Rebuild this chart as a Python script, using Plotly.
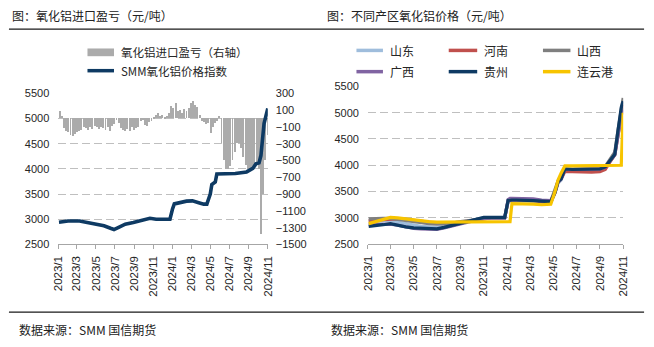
import plotly.graph_objects as go
import pandas as pd

CJK = "Noto Sans CJK SC, Noto Sans, sans-serif"
NUM = "Liberation Sans, Arial, sans-serif"
W, H = 654, 347

# ---------------- data ----------------
month_ticks = ["2023-01-01", "2023-03-01", "2023-05-01", "2023-07-01", "2023-09-01", "2023-11-01",
               "2024-01-01", "2024-03-01", "2024-05-01", "2024-07-01", "2024-09-01", "2024-11-01"]
month_text = ["2023/1", "2023/3", "2023/5", "2023/7", "2023/9", "2023/11",
              "2024/1", "2024/3", "2024/5", "2024/7", "2024/9", "2024/11"]

# weekly import profit/loss (right axis), weeks starting 2023-01-06
bar_dates = pd.date_range("2023-01-06", periods=96, freq="7D")
import_pl = [80, 30, -120, -150,
             -170, -200, -215, -190,
             -170, -150, -140, -110, -120,
             -140, -100, -130, -90,
             -110, -130, -100, -120,
             -140, -110, -150, -90, -70,
             -20, -60, -120, -140,
             -150, -130, -150, -110,
             -140, -120, -100, -30, -20,
             -80, -90, -40, -30,
             20, 40, 60, 30,
             40, 20, 30, 60, 150,
             120, 175, 80, 100,
             60, 110, 90, 120,
             180, 200, 160, 130, 40,
             -30, -50, -70, -60,
             -180, -100, -60, -30, 30,
             -300, -500, -600, -610,
             -570, -500, -400, -300,
             -290, -350, -460, -560, -600,
             -610, -600, -590, -560,
             -600, -1380, -900, -500,
             -200]

idx_dates = ["2023-01-03", "2023-02-01", "2023-03-10", "2023-04-05", "2023-05-06", "2023-05-27",
             "2023-06-17", "2023-06-28", "2023-07-13", "2023-08-03", "2023-08-29", "2023-09-24",
             "2023-10-21", "2023-11-10", "2023-12-24", "2024-01-01", "2024-01-07", "2024-02-15",
             "2024-03-05", "2024-03-25", "2024-04-10", "2024-04-20", "2024-05-01", "2024-05-06",
             "2024-05-17", "2024-05-22", "2024-06-15", "2024-07-20", "2024-08-25", "2024-09-14",
             "2024-09-24", "2024-10-04", "2024-10-10", "2024-10-15", "2024-10-20", "2024-11-01"]
smm_index = [2940, 2965, 2965, 2936, 2904, 2872, 2821, 2796, 2840, 2904, 2936, 2968,
             3019, 3000, 3000, 3200, 3306, 3360, 3365, 3330, 3300, 3300, 3500, 3690,
             3740, 3900, 3900, 3910, 3940, 4010, 4100, 4120, 4265, 4650, 4900, 5200]

reg_dates = ["2023-01-03", "2023-01-20", "2023-02-10", "2023-03-01", "2023-03-20", "2023-04-10",
             "2023-05-01", "2023-05-20", "2023-06-10", "2023-07-01", "2023-07-20", "2023-08-10",
             "2023-09-01", "2023-09-20", "2023-10-10", "2023-11-01", "2023-11-20", "2023-12-10",
             "2023-12-26", "2024-01-04", "2024-01-09", "2024-01-14", "2024-01-25", "2024-02-15",
             "2024-03-10", "2024-04-01", "2024-04-25", "2024-05-06", "2024-05-14", "2024-05-22",
             "2024-06-01", "2024-06-20", "2024-07-15", "2024-08-10", "2024-09-01", "2024-09-15",
             "2024-09-27", "2024-10-10", "2024-10-18", "2024-10-24", "2024-10-27", "2024-11-01"]
shandong = [2930, 2940, 2940, 2950, 2920, 2890, 2860, 2840, 2830, 2820, 2840, 2870, 2900, 2930,
            2960, 3000, 3000, 3000, 3000, 3300, 3320, 3320, 3320, 3320, 3320, 3300, 3290, 3470,
            3660, 3720, 3910, 3910, 3910, 3910, 3920, 3950, 4080, 4200, 4550, 4850, 5000, 5100]
henan = [2950, 2960, 2970, 2980, 2980, 2970, 2950, 2940, 2920, 2900, 2890, 2900, 2920, 2940,
         2960, 2990, 3000, 3000, 3000, 3320, 3340, 3340, 3340, 3340, 3330, 3310, 3300, 3480,
         3680, 3740, 3880, 3880, 3870, 3870, 3880, 3920, 4060, 4200, 4550, 4850, 5000, 5150]
shanxi = [2980, 2990, 2990, 2990, 2970, 2950, 2930, 2910, 2890, 2880, 2890, 2900, 2930, 2950,
          2970, 2990, 3000, 3000, 3000, 3330, 3340, 3340, 3340, 3340, 3340, 3330, 3320, 3520,
          3700, 3780, 3930, 3930, 3930, 3930, 3940, 3980, 4120, 4250, 4650, 4950, 5100, 5280]
guangxi = [2870, 2870, 2880, 2880, 2860, 2830, 2800, 2790, 2780, 2780, 2810, 2850, 2890, 2920,
           2950, 2990, 3000, 3000, 3000, 3350, 3370, 3370, 3370, 3370, 3360, 3340, 3330, 3480,
           3680, 3740, 3920, 3920, 3920, 3920, 3930, 3960, 4080, 4200, 4550, 4850, 4950, 5050]
guizhou = [2840, 2850, 2870, 2890, 2860, 2830, 2810, 2800, 2790, 2790, 2820, 2860, 2900, 2930,
           2970, 3010, 3010, 3010, 3010, 3330, 3340, 3340, 3340, 3340, 3330, 3320, 3310, 3490,
           3690, 3740, 3930, 3920, 3920, 3920, 3930, 3970, 4090, 4210, 4640, 5010, 5100, 5220]
lianyungang = [2890, 2930, 2970, 3010, 3000, 2980, 2960, 2950, 2930, 2920, 2920, 2920, 2930, 2930,
               2930, 2930, 2930, 2930, 2930, 2930, 2930, 3270, 3270, 3260, 3260, 3250, 3260, 3500,
               3720, 3850, 3990, 3990, 3990, 3990, 3990, 3990, 4000, 4000, 4000, 4000, 4000, 5000]

region_names = ["山东", "河南", "山西", "广西", "贵州", "连云港"]
region_series = [shandong, henan, shanxi, guangxi, guizhou, lianyungang]
region_colors = ["#9FBDDC", "#C0504D", "#7F7F7F", "#8064A2", "#0E3A63", "#F7C400"]

left_legend = ["氧化铝进口盈亏（右轴）", "SMM氧化铝价格指数"]

NAVY = "#0E3A63"
BARC = "#ABABAB"
GRID = "#BFBFBF"
TXT = "#262626"

# ---------------- figure ----------------
fig = go.Figure()
fig.add_trace(go.Bar(x=bar_dates, y=import_pl, name=left_legend[0],
                     marker=dict(color=BARC, line=dict(width=0)),
                     width=3 * 86400000, xaxis="x", yaxis="y", hoverinfo="skip"))
fig.add_trace(go.Scatter(x=idx_dates, y=smm_index, mode="lines", name=left_legend[1],
                         line=dict(color=NAVY, width=3.6), xaxis="x", yaxis="y2",
                         hoverinfo="skip"))
for name, vals, col in zip(region_names, region_series, region_colors):
    fig.add_trace(go.Scatter(x=reg_dates, y=vals, mode="lines", name=name,
                             line=dict(color=col, width=3.2), xaxis="x2", yaxis="y3",
                             hoverinfo="skip"))

xfont = dict(family=NUM, size=11.5, color=TXT)
yfont = dict(family=NUM, size=11, color=TXT)
xcommon = dict(type="date", range=["2023-01-01", "2024-11-01"], tickmode="array",
               tickvals=month_ticks, ticktext=month_text, tickangle=-90, ticks="outside",
               ticklen=4, tickcolor="#A6A6A6", showline=True, linecolor="#A6A6A6", linewidth=1,
               showgrid=False, zeroline=False, tickfont=xfont, ticklabelstandoff=2)
ycommon = dict(range=[2500, 5500], tick0=2500, dtick=500, showgrid=True, gridcolor=GRID,
               griddash="8px,4px", gridwidth=1, zeroline=False, showline=False, ticks="",
               tickfont=yfont, ticklabelstandoff=8)

fig.update_layout(
    width=W, height=H, margin=dict(l=0, r=0, t=0, b=0),
    paper_bgcolor="white", plot_bgcolor="white",
    bargap=0, showlegend=False,
    xaxis=dict(domain=[53.3 / W, 266.7 / W], anchor="y", **xcommon),
    yaxis=dict(domain=[1 - 247 / H, 1 - 90.5 / H], anchor="x", side="right",
               range=[-1500, 300], tick0=-1500, dtick=200, showgrid=False, zeroline=False,
               showline=False, ticks="", ticklabelstandoff=7, tickfont=yfont),
    yaxis2=dict(overlaying="y", anchor="x", side="left", **ycommon),
    xaxis2=dict(domain=[368.7 / W, 628.7 / W], anchor="y3", **xcommon),
    yaxis3=dict(domain=[1 - 246.7 / H, 1 - 83.3 / H], anchor="x2", **ycommon),
)


def legend_line(x0, x1, yy, color, width):
    fig.add_shape(type="line", xref="paper", yref="paper", x0=x0 / W, x1=x1 / W,
                  y0=1 - yy / H, y1=1 - yy / H, line=dict(color=color, width=width))


def legend_text(txt, x, yy, size=11.5):
    fig.add_annotation(text=txt, x=x / W, y=1 - yy / H, xref="paper", yref="paper",
                       xanchor="left", yanchor="middle", showarrow=False,
                       font=dict(family=CJK, size=size, color=TXT))


# left-chart legend
fig.add_shape(type="rect", xref="paper", yref="paper", x0=83 / W, x1=110 / W,
              y0=1 - 52 / H, y1=1 - 44 / H, fillcolor=BARC, line=dict(width=0))
legend_text(left_legend[0], 115, 48)
legend_line(83, 110, 67, NAVY, 3.5)
legend_text(left_legend[1], 115, 67)

# right-chart legend: 2 rows x 3 columns
col_sym = [(357, 384), (451, 480), (547, 575)]
col_txt = [389, 485, 580]
row_y = [46, 68]
for i, (name, col) in enumerate(zip(region_names, region_colors)):
    r, c = divmod(i, 3)
    legend_line(col_sym[c][0], col_sym[c][1], row_y[r], col, 3.5)
    legend_text(name, col_txt[c], row_y[r], size=12)

annots = [
    dict(text="图：氧化铝进口盈亏（元/吨）", x=4 / W, y=1 - 10 / H),
    dict(text="图：不同产区氧化铝价格（元/吨）", x=325 / W, y=1 - 10 / H),
    dict(text="数据来源：SMM 国信期货", x=11 / W, y=1 - 335 / H),
    dict(text="数据来源：SMM 国信期货", x=329 / W, y=1 - 335 / H),
]
for a in annots:
    fig.add_annotation(text=a["text"], x=a["x"], y=a["y"], xref="paper", yref="paper",
                       xanchor="left", yanchor="middle", showarrow=False,
                       font=dict(family=CJK, size=12, color="#222222"))

for yy in (24, 317):
    fig.add_shape(type="line", xref="paper", yref="paper", x0=3 / W, x1=650 / W,
                  y0=1 - yy / H, y1=1 - yy / H, line=dict(color="#1A1A1A", width=1.3))

fig.write_html("out.html", config={"displayModeBar": False})
